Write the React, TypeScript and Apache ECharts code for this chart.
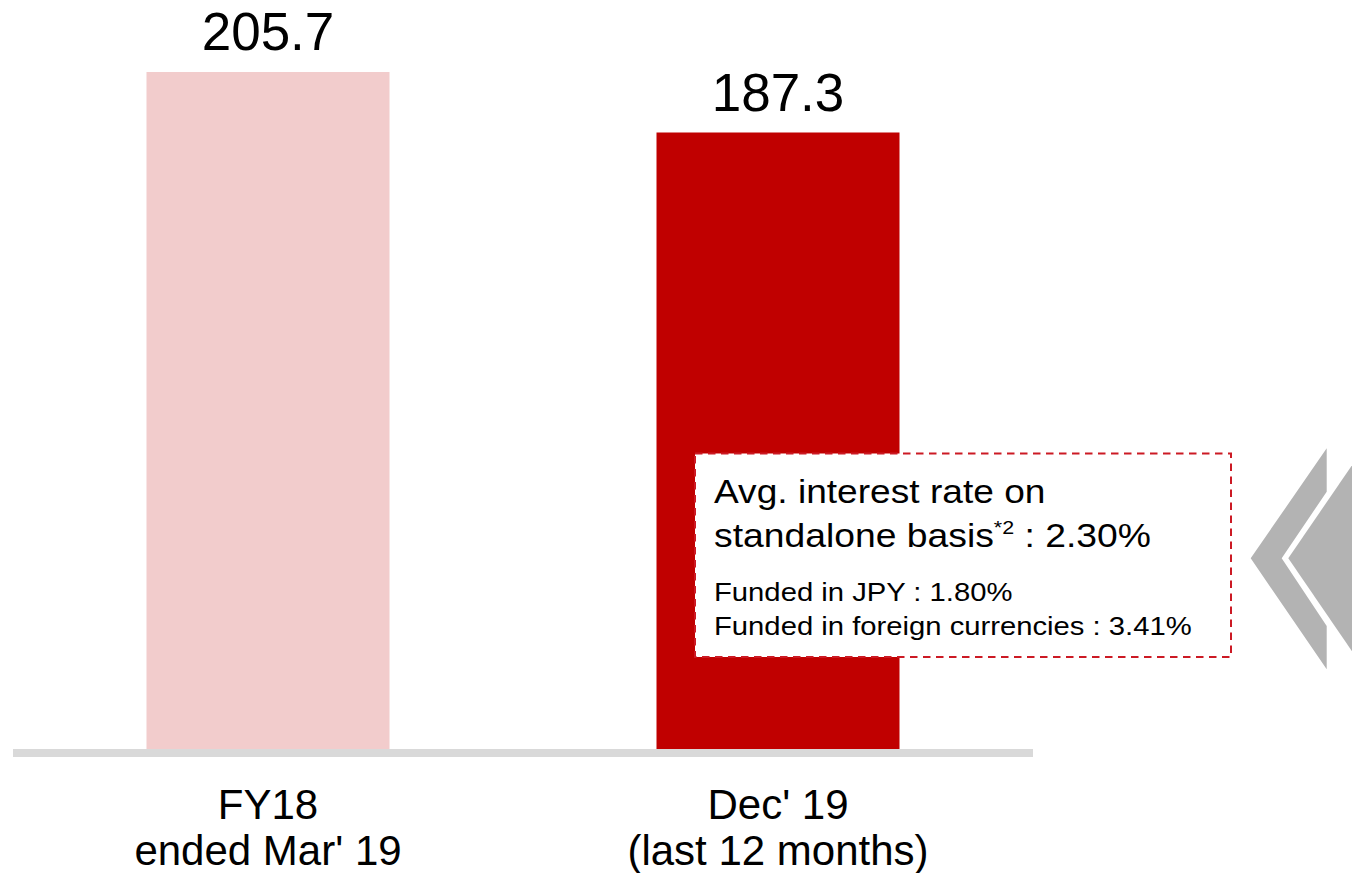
import React, { useEffect, useRef } from "react";
import * as echarts from "echarts";

const categories = ["FY18\nended Mar' 19", "Dec' 19\n(last 12 months)"];
const values = [205.7, 187.3];
const barColors = ["#F2CCCC", "#C00000"];
const boxTitleLine1 = "Avg. interest rate on";
const boxTitleLine2 = ["standalone basis", "*2", " : 2.30%"];
const boxDetailLines = ["Funded in JPY : 1.80%", "Funded in foreign currencies : 3.41%"];

const FONT = "'Liberation Sans', Arial, Helvetica, sans-serif";

export default function App() {
  const ref = useRef<HTMLDivElement>(null);

  useEffect(() => {
    if (!ref.current) return;
    const chart = echarts.init(ref.current, null, { renderer: "svg" });
    chart.setOption({
      animation: false,
      backgroundColor: "#ffffff",
      grid: { left: 13, right: 319, top: 72, bottom: 124, containLabel: false },
      xAxis: {
        type: "category",
        data: categories,
        offset: 4,
        axisLine: { show: true, onZero: false, lineStyle: { color: "#D9D9D9", width: 8, cap: "butt" } },
        axisTick: { show: false },
        axisLabel: {
          margin: 28,
          color: "#000000",
          fontSize: 42,
          lineHeight: 46,
          fontFamily: FONT,
          interval: 0,
        },
      },
      yAxis: {
        type: "value",
        min: 0,
        max: 205.7,
        show: false,
        splitLine: { show: false },
      },
      series: [
        {
          type: "bar",
          barWidth: 243,
          z: 3,
          data: values.map((v, i) => ({ value: v, itemStyle: { color: barColors[i] } })),
          label: {
            show: true,
            position: "top",
            distance: 14,
            color: "#000000",
            fontSize: 53,
            fontFamily: FONT,
          },
        },
      ],
      graphic: [
        {
          type: "rect",
          z: 100,
          shape: { x: 695, y: 453.5, width: 536, height: 203.5 },
          style: { fill: "#ffffff", stroke: "#CC1A24", lineWidth: 2, lineDash: [7.5, 5.5] },
        },
        {
          type: "text",
          z: 101,
          x: 714,
          y: 491,
          scaleX: 1.125,
          style: {
            text: boxTitleLine1,
            fill: "#000000",
            font: `33px ${FONT}`,
            verticalAlign: "middle",
            align: "left",
          },
        },
        {
          type: "text",
          z: 101,
          x: 714,
          y: 535,
          scaleX: 1.13,
          style: {
            text: `{a|${boxTitleLine2[0]}}{s|${boxTitleLine2[1]}}{a|${boxTitleLine2[2]}}`,
            fill: "#000000",
            verticalAlign: "middle",
            align: "left",
            rich: {
              a: { fontSize: 33, fontFamily: FONT, lineHeight: 34, fill: "#000000" },
              s: { fontSize: 19, fontFamily: FONT, lineHeight: 25, verticalAlign: "top", fill: "#000000" },
            },
          },
        },
        {
          type: "text",
          z: 101,
          x: 714,
          y: 592.5,
          scaleX: 1.125,
          style: {
            text: boxDetailLines[0],
            fill: "#000000",
            font: `26px ${FONT}`,
            verticalAlign: "middle",
            align: "left",
          },
        },
        {
          type: "text",
          z: 101,
          x: 714,
          y: 626,
          scaleX: 1.125,
          style: {
            text: boxDetailLines[1],
            fill: "#000000",
            font: `26px ${FONT}`,
            verticalAlign: "middle",
            align: "left",
          },
        },
        {
          type: "polygon",
          z: 50,
          shape: {
            points: [
              [1326.7, 448.3],
              [1250.7, 558.3],
              [1326.7, 669.3],
              [1326.7, 626],
              [1281.7, 558.3],
              [1326.7, 491.7],
            ],
          },
          style: { fill: "#B3B3B3" },
        },
        {
          type: "polygon",
          z: 50,
          shape: {
            points: [
              [1360, 453.5],
              [1288.3, 558.3],
              [1360, 663],
            ],
          },
          style: { fill: "#B3B3B3" },
        },
      ],
    });
    return () => chart.dispose();
  }, []);

  return (
    <div
      ref={ref}
      style={{ position: "absolute", left: 0, top: 0, width: 1352, height: 873 }}
    />
  );
}
